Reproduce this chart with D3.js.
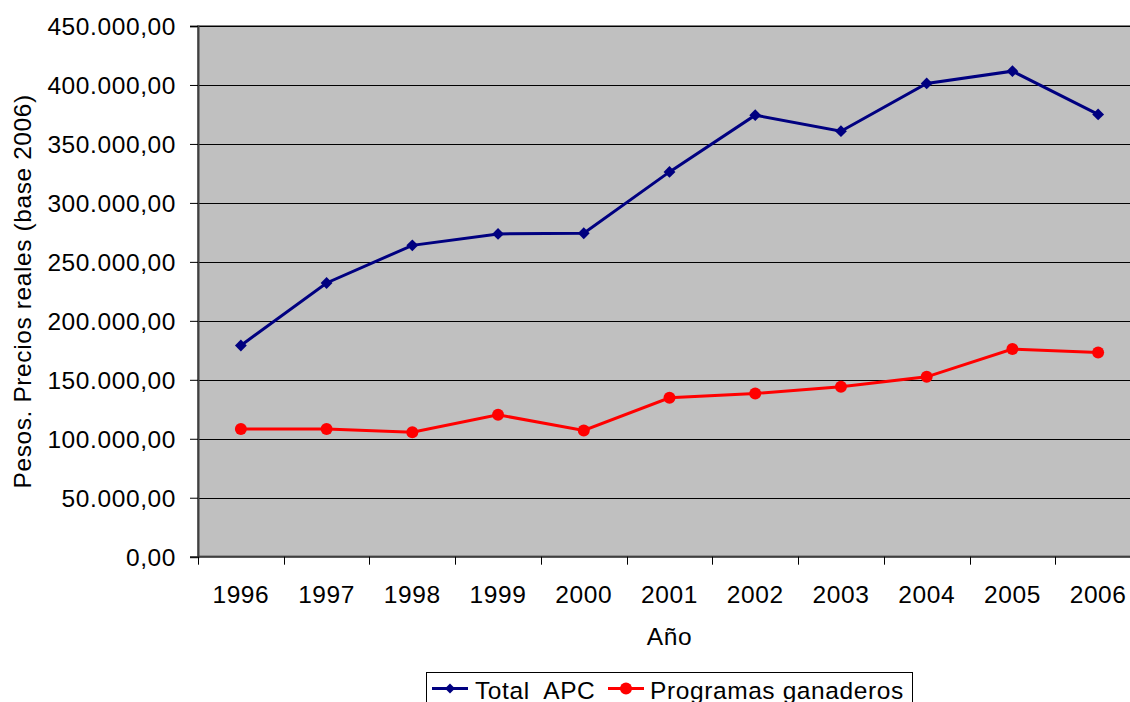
<!DOCTYPE html>
<html>
<head>
<meta charset="utf-8">
<script src="https://cdn.jsdelivr.net/npm/d3@7"></script>
<style>
  html, body { margin: 0; padding: 0; background: #fff; }
  svg { display: block; }
  text { font-family: "Liberation Sans", Arial, sans-serif; fill: #000; letter-spacing: 0.6px; }
</style>
</head>
<body>
<svg id="chart" width="1130" height="702"></svg>
<script>
// Years on the category axis
const years = ["1996", "1997", "1998", "1999", "2000", "2001", "2002", "2003", "2004", "2005", "2006"];
// Real pesos, base 2006
const totalAPC = [179100, 232100, 264000, 273700, 274300, 326300, 374400, 360800, 401300, 411700, 375000];
const programasGanaderos = [108200, 108200, 105600, 120300, 107100, 134700, 138400, 144100, 152500, 176100, 173200];
const yTicks = [0, 50000, 100000, 150000, 200000, 250000, 300000, 350000, 400000, 450000];

const seriesNames = ["Total  APC", "Programas ganaderos"];
const seriesColors = ["#000080", "#FF0000"];

const FONT_SIZE = 24.5;

const svg = d3.select("#chart");
const plot = { left: 198, right: 1141, top: 26, bottom: 556.7 };

const x = d3.scaleBand().domain(years).range([plot.left, plot.right]).padding(0);
const y = d3.scaleLinear().domain([0, 450000]).range([plot.bottom, plot.top]);

const esLocale = d3.formatLocale({ decimal: ",", thousands: ".", grouping: [3], currency: ["$", ""] });
const fmt = esLocale.format(",.2f");

// Plot background
svg.append("rect")
  .attr("x", plot.left).attr("y", plot.top)
  .attr("width", plot.right - plot.left).attr("height", plot.bottom - plot.top)
  .attr("fill", "#C0C0C0")
  .attr("stroke", "#808080").attr("stroke-width", 2);

// Horizontal gridlines
svg.append("g")
  .selectAll("line")
  .data(yTicks.filter(d => d > 0))
  .join("line")
  .attr("x1", plot.left).attr("x2", plot.right)
  .attr("y1", d => Math.round(y(d)) + 0.5).attr("y2", d => Math.round(y(d)) + 0.5)
  .attr("stroke", "#000").attr("stroke-width", 1);

// Y axis
const yAxis = svg.append("g")
  .attr("transform", `translate(${plot.left},0)`)
  .call(d3.axisLeft(y).tickValues(yTicks).tickFormat(fmt).tickSize(8).tickPadding(14));
yAxis.select(".domain").attr("stroke", "#404040").attr("stroke-width", 2);
yAxis.selectAll(".tick line").attr("stroke", "#000");
yAxis.selectAll(".tick text")
  .attr("font-size", FONT_SIZE)
  .attr("font-family", "'Liberation Sans', Arial, sans-serif")
  .attr("fill", "#000")
  .attr("dy", "0.36em");

// X axis with ticks on category boundaries
const xAxis = svg.append("g")
  .attr("transform", `translate(0,${plot.bottom})`);
xAxis.append("line")
  .attr("x1", plot.left).attr("x2", plot.right)
  .attr("y1", 0).attr("y2", 0)
  .attr("stroke", "#404040").attr("stroke-width", 2);
const boundaries = years.map(d => x(d)).concat([x(years[years.length - 1]) + x.bandwidth()]);
xAxis.selectAll("line.tick")
  .data(boundaries)
  .join("line")
  .attr("class", "tick")
  .attr("x1", d => Math.round(d) + 0.5).attr("x2", d => Math.round(d) + 0.5)
  .attr("y1", 0).attr("y2", 8)
  .attr("stroke", "#000");
xAxis.selectAll("text.lbl")
  .data(years)
  .join("text")
  .attr("class", "lbl")
  .attr("x", d => x(d) + x.bandwidth() / 2)
  .attr("y", 46.5)
  .attr("text-anchor", "middle")
  .attr("font-size", FONT_SIZE)
  .text(d => d);

// Axis titles
svg.append("text")
  .attr("x", (plot.left + plot.right) / 2)
  .attr("y", 645)
  .attr("text-anchor", "middle")
  .attr("font-size", FONT_SIZE)
  .text("Año");

svg.append("text")
  .attr("transform", `translate(31,${(plot.top + plot.bottom) / 2}) rotate(-90)`)
  .attr("text-anchor", "middle")
  .attr("font-size", FONT_SIZE)
  .text("Pesos. Precios reales (base 2006)");

// Series lines and markers
const line = d3.line()
  .x((d, i) => x(years[i]) + x.bandwidth() / 2)
  .y(d => y(d));

svg.append("path")
  .datum(totalAPC)
  .attr("d", line)
  .attr("fill", "none")
  .attr("stroke", seriesColors[0])
  .attr("stroke-width", 3);

svg.append("g")
  .selectAll("path")
  .data(totalAPC)
  .join("path")
  .attr("transform", (d, i) => `translate(${x(years[i]) + x.bandwidth() / 2},${y(d)}) rotate(45)`)
  .attr("d", d3.symbol().type(d3.symbolSquare).size(70))
  .attr("fill", seriesColors[0]);

svg.append("path")
  .datum(programasGanaderos)
  .attr("d", line)
  .attr("fill", "none")
  .attr("stroke", seriesColors[1])
  .attr("stroke-width", 3);

svg.append("g")
  .selectAll("circle")
  .data(programasGanaderos)
  .join("circle")
  .attr("cx", (d, i) => x(years[i]) + x.bandwidth() / 2)
  .attr("cy", d => y(d))
  .attr("r", 6)
  .attr("fill", seriesColors[1]);

// Legend
const legend = svg.append("g");
legend.append("rect")
  .attr("x", 426.5).attr("y", 672.5)
  .attr("width", 486).attr("height", 40)
  .attr("fill", "#fff").attr("stroke", "#000").attr("stroke-width", 1);

const legendItems = [
  { name: seriesNames[0], color: seriesColors[0], x0: 432, tx: 475, marker: "diamond" },
  { name: seriesNames[1], color: seriesColors[1], x0: 608, tx: 650, marker: "circle" }
];
const ly = 688.5;
legendItems.forEach(it => {
  legend.append("line")
    .attr("x1", it.x0).attr("x2", it.x0 + 36)
    .attr("y1", ly).attr("y2", ly)
    .attr("stroke", it.color).attr("stroke-width", 3);
  if (it.marker === "diamond") {
    legend.append("path")
      .attr("transform", `translate(${it.x0 + 18},${ly}) rotate(45)`)
      .attr("d", d3.symbol().type(d3.symbolSquare).size(50))
      .attr("fill", it.color);
  } else {
    legend.append("circle")
      .attr("cx", it.x0 + 18).attr("cy", ly).attr("r", 6)
      .attr("fill", it.color);
  }
  legend.append("text")
    .attr("x", it.tx).attr("y", 699)
    .attr("font-size", FONT_SIZE)
    .style("white-space", "pre")
    .attr("xml:space", "preserve")
    .text(it.name);
});
</script>
</body>
</html>
